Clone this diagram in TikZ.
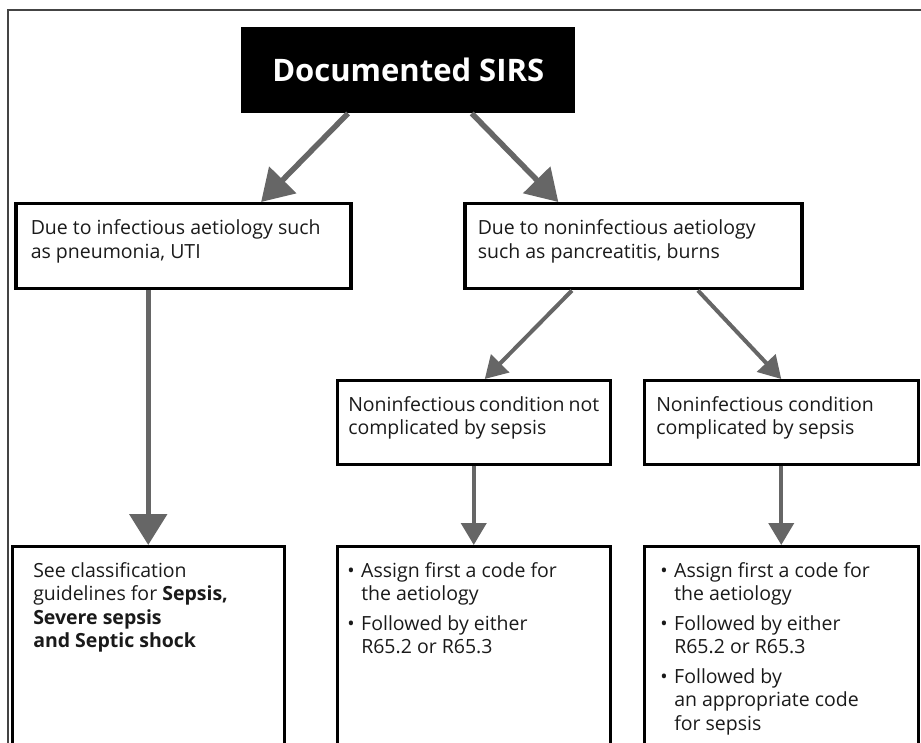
\documentclass[tikz,border=0pt]{standalone}
\usepackage{fontspec}
\setmainfont{Open Sans}
\usetikzlibrary{arrows.meta,calc}
\definecolor{arrowgray}{HTML}{666666}
\definecolor{framegray}{HTML}{444444}
\definecolor{textgray}{HTML}{1a1a1a}
\newcommand{\boxtxt}[3]{\parbox[t][#2][t]{#1}{#3}}
\newcommand{\bul}[1]{\par\hangindent=14pt\hangafter=1\makebox[14pt][l]{\textbullet}#1\par\vspace{6pt}}

\begin{document}
\begin{tikzpicture}[x=1pt,y=-1pt,
    box/.style={draw, line width=2.5pt, anchor=north west, inner ysep=16pt,
        text=textgray, font=\fontsize{19.5}{23.5}\selectfont},
    thickbox/.style={box, line width=3.5pt},
    titlebox/.style={fill=black, text=white, anchor=north west, inner sep=0pt,
        minimum width=334pt, minimum height=86pt, font=\bfseries\fontsize{31}{36}\selectfont},
    arr/.style={draw=arrowgray, line width=5.5pt, -{Triangle[length=31pt,width=37pt]}},
    arrsm/.style={draw=arrowgray, line width=4pt, -{Triangle[length=22pt,width=25pt]}}]
        \useasboundingbox (0,0) rectangle (921,743);
        \clip (0,0) rectangle (921,743);
        \draw[framegray, line width=2.5pt] (8,10) rectangle (940,760);

        \node[titlebox] (title) at (241,27) {Documented SIRS};

        \node[thickbox, inner xsep=15pt] (infect) at (14,202)
            {\boxtxt{305pt}{53pt}{Due to infectious aetiology such\\as pneumonia, UTI}};
        \node[thickbox, inner xsep=13pt] (noninf) at (463,202)
            {\boxtxt{311pt}{53pt}{Due to noninfectious aetiology\\such as pancreatitis, burns}};

        \node[box, inner xsep=11pt] (notcomp) at (336,379)
            {\boxtxt{251pt}{52pt}{Noninfectious condition not\\complicated by sepsis}};
        \node[box, inner xsep=12pt] (comp) at (643,379)
            {\boxtxt{250pt}{52pt}{Noninfectious condition\\complicated by sepsis}};

        \node[box, inner xsep=21pt] (guide) at (11,545)
            {\boxtxt{230pt}{198pt}{See classification\\guidelines for \textbf{Sepsis,}\\\textbf{Severe sepsis}\\\textbf{and Septic shock}}};
        \node[box, inner xsep=10pt] (codesA) at (336,545)
            {\boxtxt{253pt}{198pt}{\bul{Assign first a code for\\the aetiology}\bul{Followed by either\\R65.2 or R65.3}}};
        \node[box, inner xsep=16pt] (codesB) at (643,545)
            {\boxtxt{242pt}{198pt}{\bul{Assign first a code for\\the aetiology}\bul{Followed by either\\R65.2 or R65.3}\bul{Followed by\\an appropriate code\\for sepsis}}};

        \draw[arr] ($(title.south west)!.32!(title.south east)$) -- ($(infect.north west)!.73!(infect.north east)$);
        \draw[arr] ($(title.south west)!.69!(title.south east)$) -- ($(noninf.north west)!.28!(noninf.north east)$);
        \draw[arr] (guide.north |- infect.south) -- (guide.north);

        \draw[arrsm] ($(noninf.south west)!.32!(noninf.south east)$) -- ($(notcomp.north west)!.54!(notcomp.north east)$);
        \draw[arrsm] ($(noninf.south west)!.69!(noninf.south east)$) -- ($(comp.north west)!.5!(comp.north east)$);
        \draw[arrsm] (notcomp.south) -- (codesA.north);
        \draw[arrsm] (comp.south) -- (codesB.north);
        \end{tikzpicture}
\end{document}
